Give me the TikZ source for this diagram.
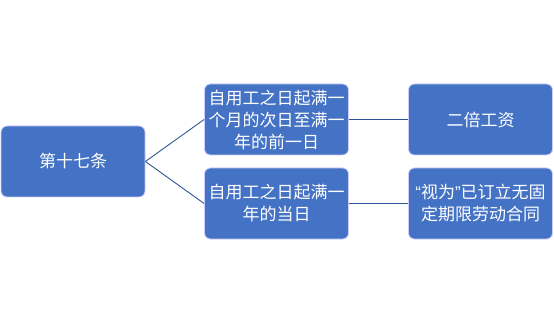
\documentclass[tikz,border=0pt]{standalone}
\usepackage{fontspec}
\setmainfont{Noto Sans CJK SC}
\newfontfamily\latinq{Liberation Sans}
\begin{document}
\begin{tikzpicture}[x=1pt,y=-1pt,
  box/.style={draw=white!80!blue, line width=0.8pt, fill=boxblue, rounded corners=6pt,
    minimum width=144pt, minimum height=71pt, inner sep=0pt, text=white,
    align=center, font=\fontsize{17}{22}\selectfont},
  link/.style={draw=lineblue, line width=0.9pt}]
\definecolor{boxblue}{HTML}{4472C4}
\definecolor{lineblue}{HTML}{2F5597}
\useasboundingbox (0,0) rectangle (554,323);
\node[box] (a) at (73,161.5) {第十七条};
\node[box] (b) at (276.5,119.5) {自用工之日起满一\\个月的次日至满一\\年的前一日};
\node[box] (c) at (276.5,203.5) {自用工之日起满一\\年的当日};
\node[box] (d) at (480.5,119.5) {二倍工资};
\node[box] (e) at (480.5,203.5) {{\latinq “}视为{\latinq ”}已订立无固\\定期限劳动合同};
\draw[link] (a.east) -- (b.west);
\draw[link] (a.east) -- (c.west);
\draw[link] (b) -- (d);
\draw[link] (c) -- (e);
\end{tikzpicture}
\end{document}
